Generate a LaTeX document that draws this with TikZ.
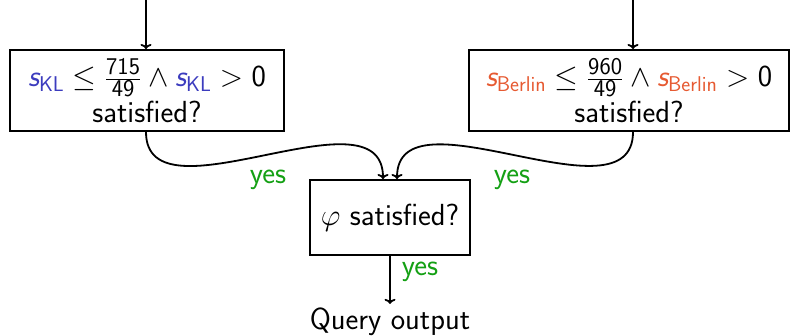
\RequirePackage{fix-cm}
\documentclass[tikz,border=0pt]{standalone}
\usetikzlibrary{calc,arrows.meta}
\DeclareMathAlphabet{\mathsfit}{OT1}{cmss}{m}{sl}
\definecolor{klblue}{RGB}{60,60,190}
\definecolor{berlinorange}{RGB}{230,90,50}
\definecolor{yesgreen}{RGB}{20,160,20}
\newcommand{\skl}{\textcolor{klblue}{\mathsfit{s}_{\mathsf{KL}}}}
\newcommand{\sberlin}{\textcolor{berlinorange}{\mathsfit{s}_{\mathsf{Berlin}}}}
% fraction with sans digits, a little larger than script size
\newcommand{\sfrac}[2]{\frac{\hbox{\fontsize{24}{24}\selectfont\sffamily #1}}{\hbox{\fontsize{24}{24}\selectfont\sffamily #2}}}
\tikzset{
  big/.style={font=\fontsize{30.5}{36}\selectfont\sffamily},
  decision/.style={big, draw, line width=2pt, align=center, inner sep=0pt},
  flow/.style={-{To[length=5pt,width=11pt]}, line width=1.8pt},
  yeslabel/.style={big, text=yesgreen, inner sep=0pt}
}
\begin{document}
\begin{tikzpicture}[x=1pt, y=-1pt]
  \useasboundingbox (0,0) rectangle (797,336);

  \node[decision, minimum width=274pt, minimum height=81pt] (kl) at (147,90.5)
    {$\skl \leq \sfrac{715}{49} \wedge \skl > \mathsf{0}$\\satisfied?};
  \node[decision, minimum width=320pt, minimum height=81pt] (berlin) at (629,90.5)
    {$\sberlin \leq \sfrac{960}{49} \wedge \sberlin > \mathsf{0}$\\satisfied?};
  \node[decision, minimum width=160pt, minimum height=75pt] (phi) at (390,217.5)
    {$\varphi$ satisfied?};
  \node[big, inner sep=0pt] (out) at (390,322) {Query output};

  \coordinate (klin) at (146,0);
  \coordinate (berlinin) at (633,0);
  \coordinate (phiL) at ($(phi.north)+(-7,0)$);
  \coordinate (phiR) at ($(phi.north)+(7,0)$);

  \draw[flow] (klin) -- (kl.north -| klin);
  \draw[flow] (berlinin) -- (berlin.north -| berlinin);
  \draw[flow] (kl.south -| klin) to[out=-90, in=90] (phiL);
  \draw[flow] (berlin.south -| berlinin) to[out=-90, in=90] (phiR);
  \draw[flow] (phi.south) -- ($(out.north)+(0,-4)$);

  \node[yeslabel] (yesL) at (268,180) {yes};
  \node[yeslabel] (yesR) at (512,180) {yes};
  \node[yeslabel] (yesB) at (420,272) {yes};
\end{tikzpicture}
\end{document}
